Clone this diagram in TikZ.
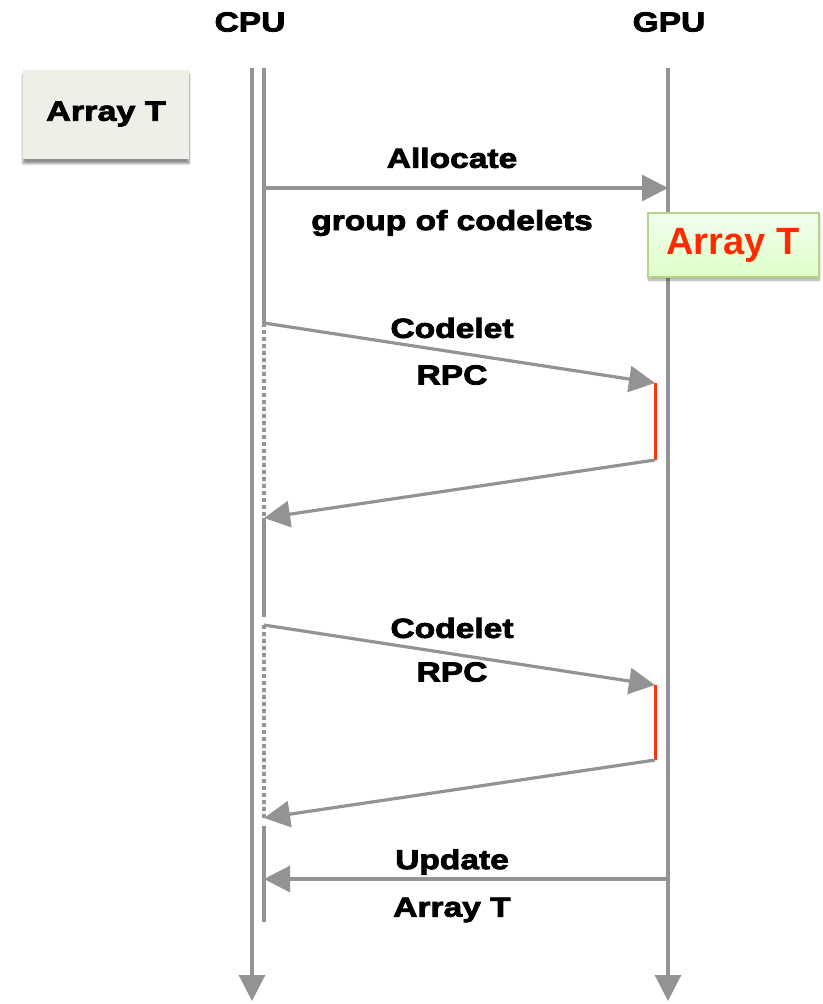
\documentclass[tikz,border=0pt]{standalone}
\usepackage{fontspec}
\setmainfont{Liberation Sans}
\newfontfamily\heavy[FakeStretch=1.22,FakeBold=3]{Liberation Sans Bold}
\newfontfamily\plainbold{Liberation Sans Bold}
\usetikzlibrary{arrows.meta,shadows.blur}
\definecolor{wire}{HTML}{939393}
\definecolor{act}{HTML}{F5360F}
\definecolor{note}{HTML}{EFEEE7}
\definecolor{greenedge}{HTML}{B4D487}
\definecolor{redtext}{HTML}{FF2A00}
\tikzset{
  lane/.style={draw=wire, line width=3.2pt},
  msg/.style={draw=wire, line width=3.2pt, -{Triangle[length=26pt,width=26pt]}},
  idle/.style={draw=wire, line width=3.2pt, dash pattern=on 4pt off 3pt},
  busy/.style={draw=act, line width=3pt},
  lbl/.style={font=\heavy\fontsize{27.5}{30}\selectfont, text=black, inner sep=0pt},
}
\begin{document}
\begin{tikzpicture}[x=1pt,y=-1pt]
\useasboundingbox (0,0) rectangle (822,1004);

% column headings
\node[lbl] (cpu) at (250,22) {CPU};
\node[lbl] (gpu) at (669,22) {GPU};

% lifelines
\coordinate (cpuTop) at (252,68);
\coordinate (cpuEnd) at (252,1001);
\coordinate (gpuTop) at (668,68);
\coordinate (gpuEnd) at (668,1001);
\draw[msg] (cpuTop) -- (cpuEnd);
\draw[msg] (gpuTop) -- (gpuEnd);

% CPU activity bar
\coordinate (a0) at (264,68);
\coordinate (a1) at (264,323);
\coordinate (a2) at (264,518);
\coordinate (a3) at (264,617);
\coordinate (a4) at (264,625);
\coordinate (a5) at (264,818);
\coordinate (a6) at (264,826);
\coordinate (a7) at (264,922);
\draw[lane] (a0) -- (a1);
\draw[idle] (a1) -- (a2);
\draw[lane] (a2) -- (a3);
\draw[idle] (a4) -- (a5);
\draw[lane] (a6) -- (a7);

% host-side array
\node[fill=note, minimum width=166pt, minimum height=89pt, inner sep=0pt,
      blur shadow={shadow xshift=0pt, shadow yshift=-5pt, shadow blur steps=8, shadow opacity=45},
      font=\heavy\fontsize{28}{30}\selectfont] (hostArr) at (106,114) {Array T};

% allocation
\coordinate (alS) at (264,188);
\coordinate (alE) at (668,188);
\draw[msg] (alS) -- (alE);
\node[lbl] (allocate) at (452,158) {Allocate};
\node[lbl] (group) at (452,223) {group of codelets};

% device-side array
\node[draw=greenedge, line width=2pt, top color=green!6!white, bottom color=green!55!yellow!22!white,
      minimum width=171pt, minimum height=64pt, inner sep=0pt,
      blur shadow={shadow xshift=1pt, shadow yshift=-3pt, shadow blur steps=6, shadow opacity=35},
      font=\plainbold\fontsize{38}{40}\selectfont, text=redtext] (devArr) at (733,245) {Array T};

% first codelet call
\coordinate (c1S) at (264,323);
\coordinate (c1E) at (655,383);
\coordinate (c1R) at (655,460);
\draw[msg] (c1S) -- (c1E);
\draw[busy] (c1E) -- (c1R);
\draw[msg] (c1R) -- (a2);
\node[lbl] (cod1) at (452,328) {Codelet};
\node[lbl] (rpc1) at (452,375) {RPC};

% second codelet call
\coordinate (c2E) at (655,685);
\coordinate (c2R) at (655,760);
\draw[msg] (a4) -- (c2E);
\draw[busy] (c2E) -- (c2R);
\draw[msg] (c2R) -- (a5);
\node[lbl] (cod2) at (452,628) {Codelet};
\node[lbl] (rpc2) at (452,672) {RPC};

% write-back
\coordinate (upS) at (666,879);
\coordinate (upE) at (264,879);
\draw[msg] (upS) -- (upE);
\node[lbl] (upd) at (452,862) {Update};
\node[lbl] (arrT) at (452,910) {Array T};
\end{tikzpicture}
\end{document}
